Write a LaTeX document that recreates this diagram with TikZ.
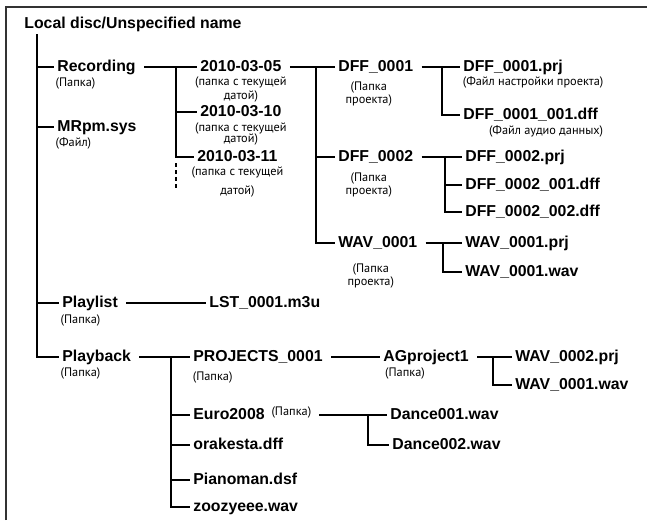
\documentclass[tikz,border=0pt]{standalone}
\usepackage{fontspec}
\setmainfont{Liberation Sans}
\newfontfamily\notefont{PT Sans}
\usetikzlibrary{positioning}

\begin{document}
\begin{tikzpicture}[x=0.03cm, y=-0.03cm, node distance=1pt]
\tikzstyle{item} = [anchor=west, inner sep=1pt,
    font=\fontsize{13.5}{16}\selectfont\bfseries, text height=10pt, text depth=3pt]
\tikzstyle{note} = [inner sep=0.5pt, align=center,
    font=\notefont\fontsize{10.5}{11.5}\selectfont]
\tikzstyle{link} = [draw, line width=1.5pt, shorten >=2pt]
\tikzstyle{branch} = [link, shorten <=6pt]
\tikzstyle{frame} = [draw, line width=1.4pt, black!80]

\useasboundingbox (0,0) rectangle (647,520);
\path[frame] (6,520) -- (6,7) -- (647,7);

\node (disc) [item] at (23,24) {Local disc/Unspecified name};
\node (rec) [item] at (56,67) {Recording};
\node (mrpm) [item] at (56,127) {MRpm.sys};
\node (plist) [item] at (61,303) {Playlist};
\node (pback) [item] at (61,357) {Playback};

\node (d05) [item] at (199,67) {2010-03-05};
\node (d10) [item] at (199,112) {2010-03-10};
\node (d11) [item] at (196,157) {2010-03-11};

\node (dff1) [item] at (337,67) {DFF\_0001};
\node (dff2) [item] at (337,157) {DFF\_0002};
\node (wav1) [item] at (337,243) {WAV\_0001};

\node (dff1prj) [item] at (462,67) {DFF\_0001.prj};
\node (dff1dff) [item] at (462,115) {DFF\_0001\_001.dff};
\node (dff2prj) [item] at (464,157) {DFF\_0002.prj};
\node (dff2a) [item] at (464,185) {DFF\_0002\_001.dff};
\node (dff2b) [item] at (464,212) {DFF\_0002\_002.dff};
\node (wav1prj) [item] at (464,243) {WAV\_0001.prj};
\node (wav1wav) [item] at (464,272) {WAV\_0001.wav};

\node (lst) [item] at (208,303) {LST\_0001.m3u};

\node (proj) [item] at (192,357) {PROJECTS\_0001};
\node (euro) [item] at (192,415) {Euro2008};
\node (ork) [item] at (192,445) {orakesta.dff};
\node (piano) [item] at (192,480) {Pianoman.dsf};
\node (zoo) [item] at (192,507) {zoozyeee.wav};

\node (ag) [item] at (382,357) {AGproject1};
\node (wav2prj) [item] at (514,357) {WAV\_0002.prj};
\node (agwav) [item] at (514,385) {WAV\_0001.wav};
\node (dance1) [item] at (389,415) {Dance001.wav};
\node (dance2) [item] at (391,445) {Dance002.wav};

\node (recn) [note, below right=1pt and -1pt of rec.south west] {(Папка)};
\node (mrpmn) [note, below right=1pt and -1pt of mrpm.south west] {(Файл)};
\node (plistn) [note, below right=2pt and -1pt of plist.south west] {(Папка)};
\node (pbackn) [note, below right=1pt and -1pt of pback.south west] {(Папка)};
\node (d05n) [note, below=0pt of d05] {(папка с текущей\\датой)};
\node (d10n) [note, below=1pt of d10] {(папка с текущей\\[-2pt]датой)};
\node (d11n) [note, below=0pt of d11] {(папка с текущей\\[4.5pt]датой)};
\node (dff1n) [note, below=4pt of dff1, xshift=-6pt] {(Папка\\проекта)};
\node (dff2n) [note, below=5pt of dff2, xshift=-6pt] {(Папка\\проекта)};
\node (wav1n) [note, below=9pt of wav1, xshift=-6pt] {(Папка\\проекта)};
\node (dff1prjn) [note, below right=0pt and 0pt of dff1prj.south west] {(Файл настройки проекта)};
\node (dff1dffn) [note, below left=1pt and -4pt of dff1dff.south east] {(Файл аудио данных)};
\node (projn) [note, below right=4pt and 0pt of proj.south west] {(Папка)};
\node (agn) [note, below right=1pt and 2pt of ag.south west] {(Папка)};
\node (euron) [note, right=4pt of euro, yshift=2pt] {(Папка)};

\coordinate (trunk) at (37,34);
\path[link] (trunk) |- (rec.west);
\path[link] (trunk) |- (mrpm.west);
\path[link] (trunk) |- (plist.west);
\path[link] (trunk) |- (pback.west);

\path[branch] (rec.east) -- (d05.west);
\coordinate (recbus) at (176,67);
\path[link] (recbus) |- (d10.west);
\path[link] (recbus) |- (d11.west);
\coordinate (recdash) at (176,163);
\coordinate (recend) at (176,190);
\path[draw, line width=1.5pt, dash pattern=on 3.5pt off 2.5pt] (recdash) -- (recend);

\path[branch] (d05.east) -- (dff1.west);
\coordinate (d05bus) at (316,67);
\path[link] (d05bus) |- (dff2.west);
\path[link] (d05bus) |- (wav1.west);

\path[branch] (dff1.east) -- (dff1prj.west);
\coordinate (dff1bus) at (442,67);
\path[link] (dff1bus) |- (dff1dff.west);

\path[branch] (dff2.east) -- (dff2prj.west);
\coordinate (dff2bus) at (445,157);
\path[link] (dff2bus) |- (dff2a.west);
\path[link] (dff2bus) |- (dff2b.west);

\path[branch] (wav1.east) -- (wav1prj.west);
\coordinate (wav1bus) at (443,243);
\path[link] (wav1bus) |- (wav1wav.west);

\path[branch] (plist.east) -- (lst.west);

\path[branch] (pback.east) -- (proj.west);
\coordinate (pbbus) at (171,357);
\path[link] (pbbus) |- (euro.west);
\path[link] (pbbus) |- (ork.west);
\path[link] (pbbus) |- (piano.west);
\path[link] (pbbus) |- (zoo.west);

\path[branch] (proj.east) -- (ag.west);
\path[branch] (ag.east) -- (wav2prj.west);
\coordinate (agbus) at (493,357);
\path[link] (agbus) |- (agwav.west);

\path[branch] (euron.east |- euro.east) -- (dance1.west);
\coordinate (eurobus) at (368,415);
\path[link] (eurobus) |- (dance2.west);
\end{tikzpicture}
\end{document}
